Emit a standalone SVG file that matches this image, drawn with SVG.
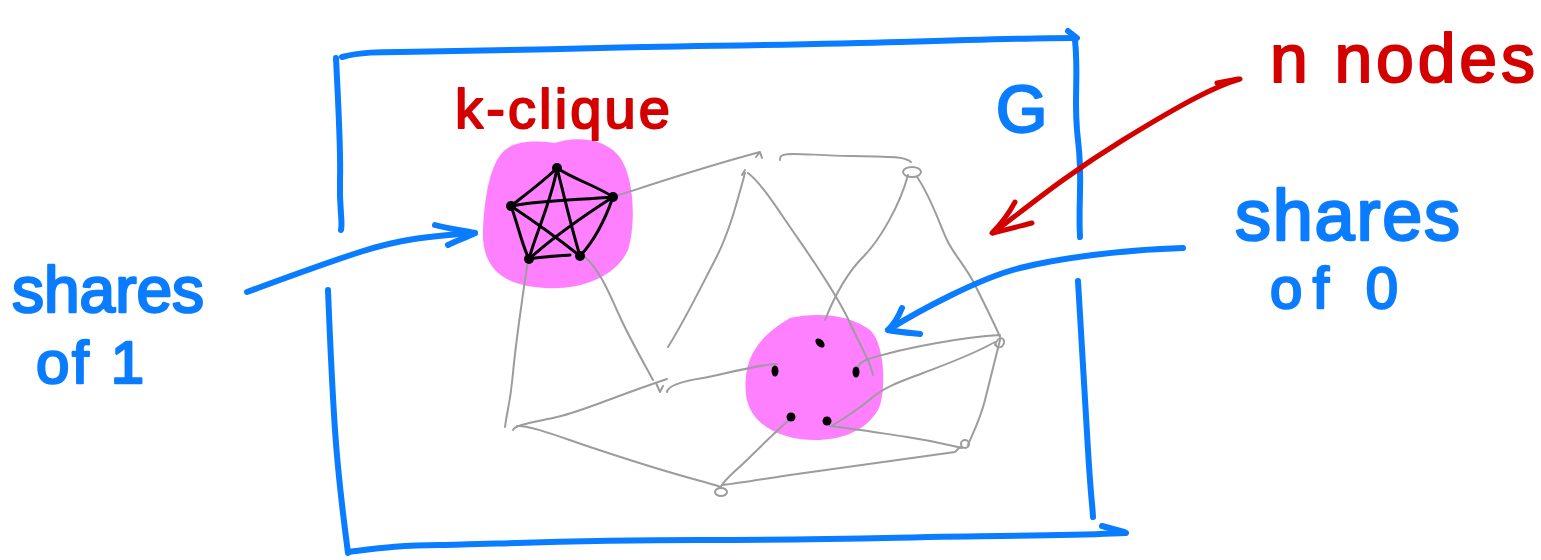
<svg xmlns="http://www.w3.org/2000/svg" width="1541" height="560" viewBox="0 0 1541 560">
<style>
.blue{fill:none;stroke:#0a7cff;stroke-width:6;stroke-linecap:round;stroke-linejoin:round}
.red{fill:none;stroke:#d40000;stroke-width:5;stroke-linecap:round;stroke-linejoin:round}
.edge{fill:none;stroke:#9c9c9c;stroke-width:2;stroke-linecap:round;stroke-linejoin:round}
.kedge{fill:none;stroke:#000;stroke-width:3;stroke-linecap:round}
.blob{fill:#ff80ff}
.dot{fill:#000}
.tb{font-family:"Liberation Sans",Arial,sans-serif;fill:#0a7cff;stroke:#0a7cff;stroke-width:2.5;stroke-linejoin:round}
.tr{font-family:"Liberation Sans",Arial,sans-serif;fill:#d40000;stroke:#d40000;stroke-width:2;stroke-linejoin:round}
</style>
<rect width="1541" height="560" fill="#fff"/>
<g id="frame-G">
<path class="blue" d="M342,57 C360,52 380,52 400,52 S520,50 600,48 S800,45 900,42 S1040,38 1074,38"/>
<path class="blue" d="M1068,31 L1077,38"/>
<path class="blue" d="M1075,40 C1079,80 1073,100 1078,140 S1078,200 1080,237"/>
<path class="blue" d="M1078,281 C1082,350 1085,400 1088,450 S1092,500 1093,517"/>
<path class="blue" d="M348,552 C380,548 400,545 440,545 S560,540 700,540 S900,537 1000,536 S1100,534 1126,533"/>
<path class="blue" d="M1102,526 L1124,532"/>
<path class="blue" d="M336,58 C338,100 341,150 340,180 S343,220 341,230"/>
<path class="blue" d="M328,290 C330,340 333,400 335,430 S341,500 348,553"/>
<text class="tb" x="996" y="132" font-size="66">G</text>
</g>
<g id="clique">
<path class="blob" d="M505,150 C520,138 545,142 555,143 C570,138 600,135 618,155 C635,175 636,225 628,250 C615,278 580,290 545,288 C500,286 482,265 483,232 C484,200 490,162 505,150 Z"/>
</g>
<g id="zero-shares">
<path class="blob" d="M790,318 C815,312 850,314 870,330 C886,345 886,395 878,410 C865,432 840,440 815,440 C780,440 750,425 746,395 C743,365 752,340 790,318 Z"/>
</g>
<g id="connectors">
<path class="edge" d="M613,197 C650,185 700,168 760,152 L762,158 M756,157 L760,152"/>
<path class="edge" d="M780,160 C778,150 800,155 850,156 S905,157 911,162"/>
<ellipse class="edge" cx="912" cy="172" rx="9" ry="5"/>
<path class="edge" d="M745,173 C735,210 728,235 715,260 S685,320 668,347 M742,175 L745,170"/>
<path class="edge" d="M748,173 C760,182 775,205 790,227 S835,290 850,323 S870,360 873,375"/>
<path class="edge" d="M908,175 C900,205 880,240 863,257 S835,295 825,320"/>
<path class="edge" d="M917,177 C930,195 940,225 947,240 S965,265 975,285 S995,325 1000,337"/>
<path class="edge" d="M528,260 C522,300 516,340 513,373 S507,410 505,427"/>
<path class="edge" d="M585,257 C600,270 610,295 620,317 S645,365 653,380 M656,383 L660,392 L663,386"/>
<path class="edge" d="M513,430 C515,425 530,423 557,417 S610,398 667,379"/>
<path class="edge" d="M667,392 C668,384 690,380 703,378 S760,364 777,364"/>
<path class="edge" d="M517,426 C530,425 560,437 590,447 S660,470 697,480 S715,486 720,488"/>
<ellipse class="edge" cx="721" cy="492" rx="6" ry="4"/>
<path class="edge" d="M792,417 C780,428 765,442 750,457 S725,478 720,488"/>
<path class="edge" d="M723,485 C740,483 770,478 790,475 S880,462 955,452 L960,447"/>
<path class="edge" d="M830,426 C850,428 880,433 907,437 S945,444 962,448"/>
<circle class="edge" cx="965" cy="444" r="4"/>
<path class="edge" d="M858,368 C858,360 875,357 890,353 S960,337 1000,335"/>
<path class="edge" d="M1000,340 C995,360 990,380 985,400 S972,435 968,445"/>
<path class="edge" d="M833,425 C845,418 860,408 873,397 S905,380 923,373 S970,356 995,342"/>
<path class="edge" d="M995,345 C998,336 1005,337 1004,343 C1002,349 996,348 996,345"/>
<path class="kedge" d="M557,168 C545,180 525,195 511,206"/>
<path class="kedge" d="M557,168 C575,180 595,185 613,197"/>
<path class="kedge" d="M557,168 C552,200 535,235 529,259"/>
<path class="kedge" d="M557,168 C565,200 572,230 580,256"/>
<path class="kedge" d="M511,206 C545,200 580,200 613,197"/>
<path class="kedge" d="M511,206 C518,225 522,245 529,259"/>
<path class="kedge" d="M511,206 C535,222 560,240 580,256"/>
<path class="kedge" d="M613,197 C585,215 550,240 529,259"/>
<path class="kedge" d="M613,197 C605,220 595,240 580,256"/>
<path class="kedge" d="M529,259 C545,256 560,256 570,255"/>
<circle class="dot" cx="557" cy="168" r="5"/>
<circle class="dot" cx="613" cy="197" r="5"/>
<circle class="dot" cx="511" cy="206" r="5"/>
<circle class="dot" cx="529" cy="259" r="5"/>
<circle class="dot" cx="580" cy="256" r="5"/>
<ellipse class="dot" cx="820" cy="343" rx="3.5" ry="5.5" transform="rotate(-45 820 343)"/>
<ellipse class="dot" cx="775" cy="371" rx="3.5" ry="5.5"/>
<ellipse class="dot" cx="856" cy="372" rx="3.5" ry="5.5"/>
<circle class="dot" cx="791" cy="417" r="4.5"/>
<circle class="dot" cx="827" cy="421" r="4.5"/>
<path class="red" d="M1240,79 C1215,86 1180,105 1123,140 S1030,205 993,233"/>
<path class="red" d="M1217,83 L1238,79"/>
<path class="red" d="M1015,202 C1008,215 1000,225 992,233 C1005,230 1020,226 1032,223"/>
<path class="blue" d="M247,292 C280,280 320,265 360,252 S430,236 475,233"/>
<path class="blue" d="M435,225 C445,228 460,230 475,233 C467,237 456,241 448,245"/>
<path class="blue" d="M1183,248 C1120,250 1060,258 1020,268 S920,310 888,330"/>
<path class="blue" d="M902,308 C898,318 893,325 888,330 C898,332 910,333 920,334"/>
</g>
<g id="labels">
<text class="tr" x="455" y="128" font-size="56" textLength="215" lengthAdjust="spacing">k-clique</text>
<text class="tr" x="1270" y="82" font-size="68" textLength="265" lengthAdjust="spacing">n nodes</text>
<text class="tb" x="12" y="312" font-size="64" textLength="192" lengthAdjust="spacing">shares</text>
<text class="tb" x="36" y="383" font-size="60" textLength="108" lengthAdjust="spacing">of 1</text>
<text class="tb" x="1235" y="240" font-size="72" textLength="225" lengthAdjust="spacing">shares</text>
<text class="tb" x="1270" y="308" font-size="58" textLength="128" lengthAdjust="spacing">of 0</text>
</g>
</svg>
